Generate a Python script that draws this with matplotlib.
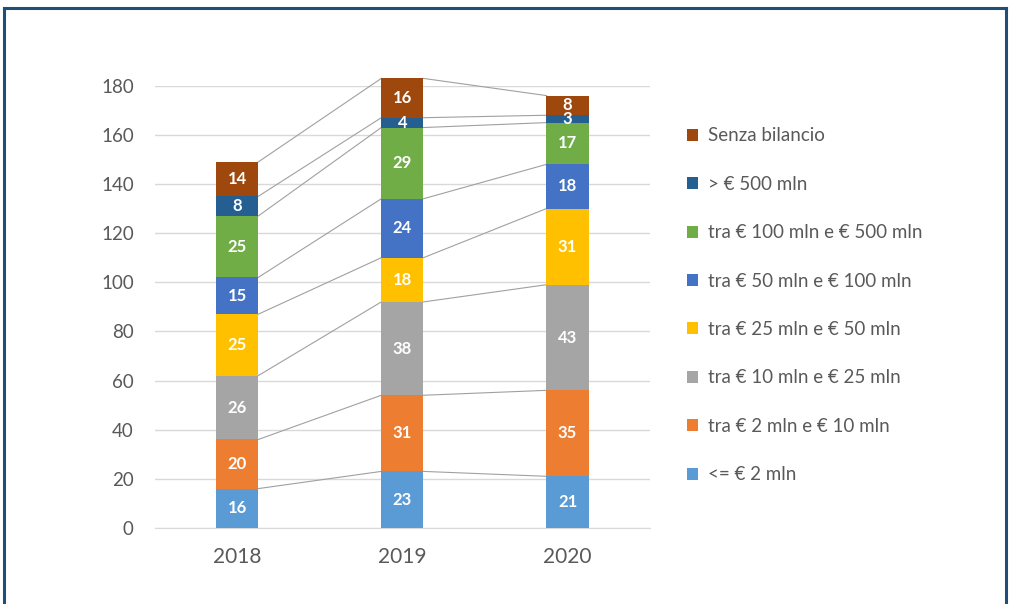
import matplotlib.pyplot as plt
from matplotlib.lines import Line2D
import numpy as np

years = ['2018', '2019', '2020']
series = ['<= € 2 mln', 'tra € 2 mln e € 10 mln', 'tra € 10 mln e € 25 mln',
          'tra € 25 mln e € 50 mln', 'tra € 50 mln e € 100 mln',
          'tra € 100 mln e € 500 mln', '> € 500 mln', 'Senza bilancio']
le_2 = [16, 23, 21]
tra_2_10 = [20, 31, 35]
tra_10_25 = [26, 38, 43]
tra_25_50 = [25, 18, 31]
tra_50_100 = [15, 24, 18]
tra_100_500 = [25, 29, 17]
gt_500 = [8, 4, 3]
senza = [14, 16, 8]
values = [le_2, tra_2_10, tra_10_25, tra_25_50, tra_50_100, tra_100_500, gt_500, senza]
colors = ['#5B9BD5', '#ED7D31', '#A5A5A5', '#FFC000', '#4472C4', '#70AD47', '#255E91', '#9E480E']

plt.rcParams['font.family'] = ['Lato', 'DejaVu Sans']

fig = plt.figure(figsize=(10.11, 6.04), dpi=100)
ax = fig.add_axes([0.153, 0.126, 0.490, 0.732])

x = np.arange(len(years))
w = 0.255
bottom = np.zeros(len(years))
for name, vals, c in zip(series, values, colors):
    vals = np.array(vals)
    ax.bar(x, vals, w, bottom=bottom, color=c, label=name, zorder=3, clip_on=False)
    for xi, b, v in zip(x, bottom, vals):
        ax.text(xi, b + v / 2, str(v), ha='center', va='center', color='white',
                fontsize=12, fontweight='bold', zorder=4)
    top = bottom + vals
    # linee di serie tra le barre
    for i in range(len(years) - 1):
        ax.plot([x[i] + w / 2, x[i + 1] - w / 2], [top[i], top[i + 1]],
                color='#A0A0A0', lw=0.8, zorder=2, clip_on=False)
    bottom = top

ax.set_xlim(-0.5, 2.5)
ax.set_ylim(0, 180)
ax.set_yticks(range(0, 181, 20))
ax.set_xticks(x)
ax.set_xticklabels(years)
ax.grid(axis='y', color='#D9D9D9', lw=1, zorder=0)
for s in ['top', 'right', 'left']:
    ax.spines[s].set_visible(False)
ax.spines['bottom'].set_color('#D9D9D9')
ax.tick_params(axis='both', length=0, colors='#595959', labelsize=13.5)
ax.tick_params(axis='x', labelsize=15, pad=14)
ax.tick_params(axis='y', pad=15)

handles, labels = ax.get_legend_handles_labels()
leg = fig.legend(handles[::-1], labels[::-1], loc='upper left',
                 bbox_to_anchor=(0.663, 0.817), frameon=False, fontsize=13.5,
                 handlelength=0.6, handleheight=0.6, handletextpad=0.5,
                 labelspacing=1.675, labelcolor='#595959')

# cornice esterna
fc = '#1F4E79'
fig.add_artist(Line2D([0.004, 0.004], [0, 0.987], color=fc, lw=2.2, transform=fig.transFigure))
fig.add_artist(Line2D([0.004, 0.995], [0.987, 0.987], color=fc, lw=2.2, transform=fig.transFigure))
fig.add_artist(Line2D([0.995, 0.995], [0, 0.987], color=fc, lw=2.2, transform=fig.transFigure))

fig.savefig('out.png', dpi=100)
